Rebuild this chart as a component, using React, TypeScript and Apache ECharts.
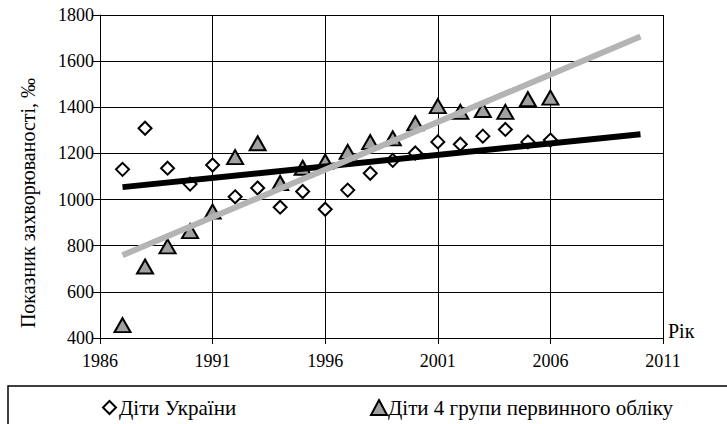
import React, { useEffect, useRef } from "react";
import * as echarts from "echarts";

const years = [1987, 1988, 1989, 1990, 1991, 1992, 1993, 1994, 1995, 1996, 1997, 1998, 1999, 2000, 2001, 2002, 2003, 2004, 2005, 2006];
const ukraineChildren = [1131, 1309, 1136, 1067, 1150, 1012, 1050, 967, 1035, 958, 1041, 1114, 1170, 1202, 1250, 1240, 1275, 1304, 1250, 1258];
const group4Children = [456, 710, 797, 863, 948, 1184, 1244, 1072, 1138, 1165, 1207, 1249, 1265, 1330, 1405, 1380, 1388, 1380, 1435, 1442];
const trendYears = [1987, 2010];
const ukraineTrend = [1054, 1283];
const group4Trend = [759, 1707];
const xTicks = { min: 1986, max: 2011, step: 5 };
const yTicks = { min: 400, max: 1800, step: 200 };
const seriesNames = ["Діти України", "Діти 4 групи первинного обліку"];
const yTitle = "Показник захворюваності, ‰";
const xTitle = "Рік";

const FONT = "Liberation Serif";

export default function App() {
  const ref = useRef<HTMLDivElement>(null);
  useEffect(() => {
    document.body.style.margin = "0";
    const chart = echarts.init(ref.current!, undefined, { renderer: "svg" });
    const pts = (vals: number[]) => years.map((y, i) => [y, vals[i]]);
    const trend = (vals: number[]) => trendYears.map((y, i) => [y, vals[i]]);
    chart.setOption({
      animation: false,
      backgroundColor: "#fff",
      textStyle: { fontFamily: FONT, color: "#000" },
      grid: { left: 100, right: 64, top: 15, bottom: 86 },
      xAxis: {
        type: "value",
        min: xTicks.min,
        max: xTicks.max,
        interval: xTicks.step,
        axisLine: { lineStyle: { color: "#000", width: 1 } },
        axisTick: { show: true, length: 6, lineStyle: { color: "#000" } },
        axisLabel: { color: "#000", fontSize: 18, fontFamily: FONT, margin: 14, formatter: (v: number) => String(v) },
        splitLine: { show: true, lineStyle: { color: "#000", width: 1 } },
      },
      yAxis: {
        type: "value",
        min: yTicks.min,
        max: yTicks.max,
        interval: yTicks.step,
        axisLine: { show: true, lineStyle: { color: "#000", width: 1 } },
        axisTick: { show: true, length: 7, lineStyle: { color: "#000" } },
        axisLabel: { color: "#000", fontSize: 18, fontFamily: FONT, margin: 6, formatter: (v: number) => String(v) },
        splitLine: { show: true, lineStyle: { color: "#000", width: 1 } },
      },
      legend: [
        {
          data: [seriesNames[0]],
          left: 97,
          top: 392,
          itemWidth: 13,
          itemHeight: 13,
          itemGap: 4,
          textStyle: { fontFamily: FONT, fontSize: 21, color: "#000", padding: [0, 0, 0, -2] },
        },
        {
          data: [seriesNames[1]],
          left: 365,
          top: 392,
          itemWidth: 16,
          itemHeight: 15,
          textStyle: { fontFamily: FONT, fontSize: 21, color: "#000", padding: [0, 0, 0, -4] },
        },
      ],
      graphic: [
        {
          type: "rect",
          shape: { x: 8, y: 386, width: 740, height: 60 },
          style: { fill: "none", stroke: "#000", lineWidth: 1.5 },
        },
        {
          type: "text",
          x: 28,
          y: 203,
          rotation: Math.PI / 2,
          style: {
            text: yTitle,
            fontFamily: FONT,
            fontSize: 20,
            fill: "#000",
            align: "center",
            verticalAlign: "middle",
          },
        },
        {
          type: "text",
          x: 668,
          y: 331,
          style: { text: xTitle, fontFamily: FONT, fontSize: 20, fill: "#000", align: "left", verticalAlign: "middle" },
        },
      ],
      series: [
        {
          name: seriesNames[0],
          type: "scatter",
          data: pts(ukraineChildren),
          symbol: "diamond",
          symbolSize: [13, 13],
          itemStyle: { color: "#fff", borderColor: "#000", borderWidth: 2, opacity: 1 },
          z: 3,
        },
        {
          name: seriesNames[1],
          type: "scatter",
          data: pts(group4Children),
          symbol: "triangle",
          symbolSize: [16, 14],
          itemStyle: { color: "#a0a0a0", borderColor: "#000", borderWidth: 2, opacity: 1 },
          z: 3,
        },
        {
          name: "trend1",
          type: "line",
          data: trend(ukraineTrend),
          showSymbol: false,
          symbol: "none",
          lineStyle: { color: "#000", width: 6 },
          z: 4,
        },
        {
          name: "trend2",
          type: "line",
          data: trend(group4Trend),
          showSymbol: false,
          symbol: "none",
          lineStyle: { color: "#b4b4b4", width: 6 },
          z: 4,
        },
      ],
    });
    return () => chart.dispose();
  }, []);
  return <div ref={ref} style={{ width: 727, height: 424 }} />;
}
